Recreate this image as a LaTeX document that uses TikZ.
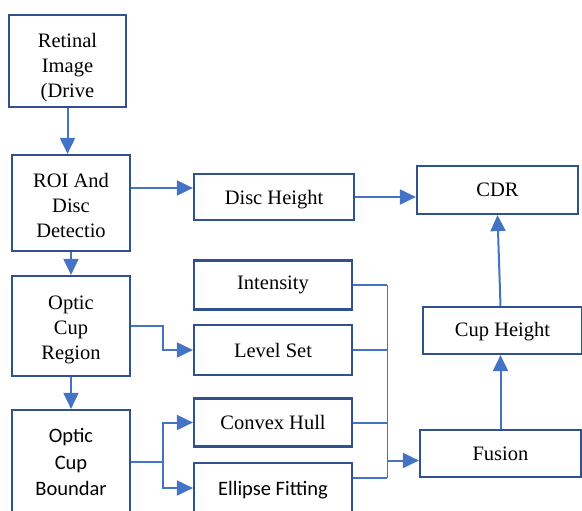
\documentclass[tikz,border=0pt]{standalone}
\usepackage{fontspec}
\setmainfont{Liberation Serif}
\newfontfamily\timesf{Liberation Serif}
\newfontfamily\calibri{Carlito}
\usetikzlibrary{arrows.meta}
\definecolor{boxblue}{HTML}{2F528F}
\definecolor{arrblue}{HTML}{4472C4}
\begin{document}
\begin{tikzpicture}[x=1pt,y=-1pt,
  box/.style={draw=boxblue, line width=2.2pt, align=center, inner sep=0pt, fill=white,
    font=\timesf\fontsize{20.5}{25}\selectfont},
  sansbox/.style={box, font=\calibri\fontsize{20.5}{26.5}\selectfont},
  txt/.style={align=center, inner sep=0pt, font=\timesf\fontsize{20.5}{25}\selectfont},
  sanstxt/.style={txt, font=\calibri\fontsize{20.5}{26.5}\selectfont},
  arr/.style={draw=arrblue, line width=2pt, -{Triangle[length=16pt,width=15pt]}},
  thinline/.style={draw=arrblue, line width=1.1pt},
  midline/.style={draw=arrblue, line width=2pt}]
\useasboundingbox (0,0) rectangle (582,511);
% left column
\node[box, minimum width=117pt, minimum height=92pt] (ret) at (67.5,61) {};
\node[txt] (rett) at ([yshift=-7pt]ret.center) {Retinal\\Image\\(Drive};
\node[box, minimum width=118pt, minimum height=96pt] (roi) at (71,203) {};
\node[txt] (roit) at ([yshift=-2pt]roi.center) {ROI And\\Disc\\Detectio};
\node[box, minimum width=118pt, minimum height=100pt] (ocr) at (71,326) {};
\node[txt] (ocrt) at ([yshift=-3.5pt]ocr.center) {Optic\\Cup\\Region};
\node[sansbox, minimum width=118pt, minimum height=104pt] (ocb) at (71,462) {Optic\\Cup\\Boundar};
% middle column
\node[box, minimum width=160pt, minimum height=46pt] (dh) at (274,197) {};
\node[txt] (dht) at ([yshift=-2.5pt]dh.center) {Disc Height};
\node[box, minimum width=158pt, minimum height=49pt] (int) at (273,285) {Intensity};
\node[box, minimum width=158pt, minimum height=50pt] (ls) at (273,350) {Level Set};
\node[box, minimum width=158pt, minimum height=48pt] (ch) at (273,422.5) {Convex Hull};
\node[box, minimum width=158pt, minimum height=50pt] (ef) at (273,488) {};
\node[sanstxt] (eft) at ([yshift=-2.5pt]ef.center) {Ellipse Fitting};
% right column
\node[box, minimum width=161pt, minimum height=48pt] (cdr) at (497.5,190) {CDR};
\node[box, minimum width=159pt, minimum height=47pt] (cuph) at (502.5,330.5) {};
\node[txt] (cupht) at ([yshift=-1.5pt]cuph.center) {Cup Height};
\node[box, minimum width=161pt, minimum height=47pt] (fus) at (500.5,453.5) {Fusion};
% left connectors
\draw[arr] (ret.south) -- (ret.south |- roi.north);
\draw[arr] (roi.south) -- (ocr.north);
\draw[arr] (ocr.south) -- (ocb.north);
\draw[arr] ([yshift=15pt]roi.east) -- ([yshift=15pt]roi.east -| dh.west);
\draw[arr] (ocr.east) -- ++(32,0) |- (ls.west);
\draw[midline] (ocb.east) -- ++(32,0) coordinate (ocbj);
\draw[arr] (ocbj) |- (ch.west);
\draw[arr] (ocbj) |- (ef.west);
% disc height to CDR
\draw[arr] (dh.east) -- (dh.east -| cdr.west);
% fusion bus
\coordinate (bus) at ([xshift=34pt]int.east);
\draw[thinline] (int.east) -- (bus);
\draw[thinline] (ls.east) -- (ls.east -| bus);
\draw[midline] (ch.east) -- (ch.east -| bus);
\draw[thinline] ([yshift=10pt]ef.east) -- ([yshift=10pt]ef.east -| bus);
\draw[thinline] (bus) -- ([yshift=10pt]ef.east -| bus);
\draw[arr] ([yshift=-7pt]fus.west -| bus) -- ([yshift=-7pt]fus.west);
% right column arrows
\draw[arr] (fus.north) -- (fus.north |- cuph.south);
\draw[arr] (fus.north |- cuph.north) -- (cdr.south);
\end{tikzpicture}
\end{document}
